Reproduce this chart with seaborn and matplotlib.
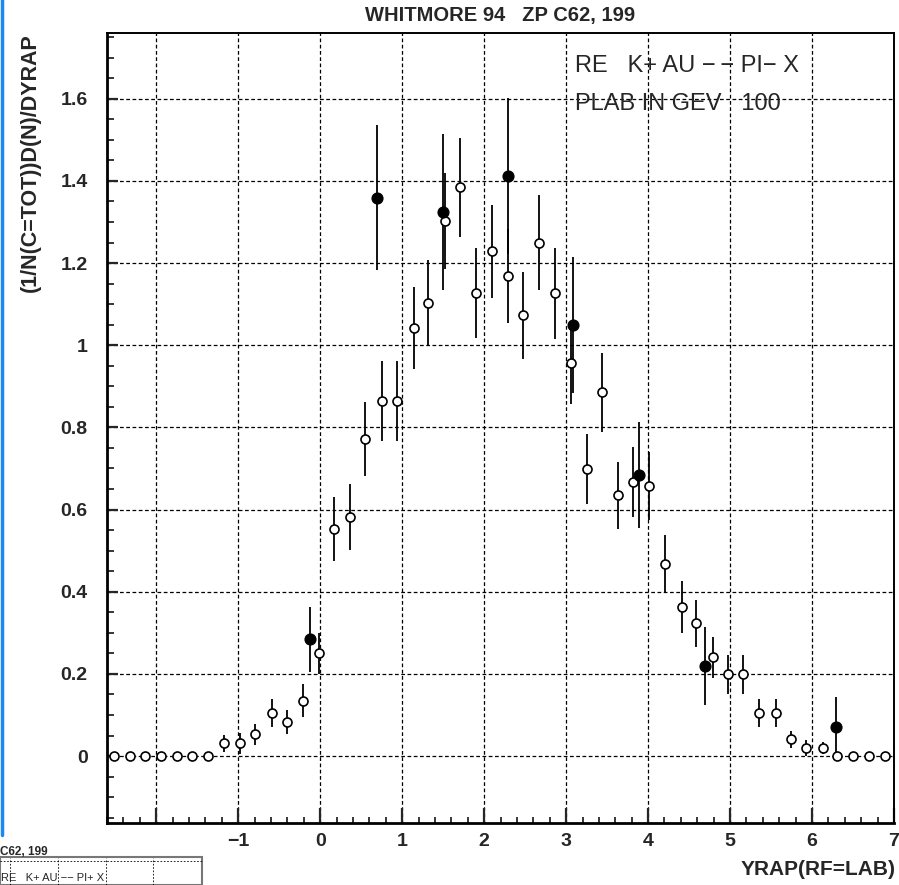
import numpy as np
import pandas as pd
import matplotlib
matplotlib.use("Agg")
import matplotlib.pyplot as plt
from matplotlib.patches import Rectangle
from matplotlib.lines import Line2D
from matplotlib.ticker import MultipleLocator, FixedLocator, FixedFormatter
import seaborn as sns

# --- Data (WHITMORE 94, ZP C62, 199) ---
# open circles
x_open = [-2.52, -2.32, -2.14, -1.94, -1.75, -1.56, -1.37, -1.17, -0.98, -0.79,
          -0.59, -0.41, -0.21, -0.02, 0.17, 0.37, 0.55, 0.75, 0.94, 1.14,
          1.32, 1.52, 1.71, 1.90, 2.10, 2.29, 2.48, 2.67, 2.86, 3.06,
          3.25, 3.44, 3.63, 3.82, 4.01, 4.21, 4.41, 4.59, 4.79, 4.98,
          5.16, 5.35, 5.56, 5.74, 5.92, 6.13, 6.31, 6.50, 6.70, 6.89]
y_open = [0, 0, 0, 0, 0, 0, 0, 0.031, 0.031, 0.053,
          0.104, 0.083, 0.135, 0.250, 0.552, 0.582, 0.771, 0.864, 0.864, 1.041,
          1.103, 1.302, 1.384, 1.127, 1.229, 1.168, 1.073, 1.250, 1.126, 0.957,
          0.698, 0.885, 0.635, 0.667, 0.657, 0.467, 0.363, 0.323, 0.240, 0.199,
          0.199, 0.105, 0.105, 0.041, 0.020, 0.020, 0, 0, 0, 0]
e_open = [0.01, 0.01, 0.01, 0.01, 0.01, 0.01, 0.01, 0.020, 0.025, 0.025,
          0.034, 0.030, 0.040, 0.050, 0.078, 0.080, 0.090, 0.097, 0.097, 0.100,
          0.105, 0.117, 0.120, 0.110, 0.113, 0.115, 0.106, 0.115, 0.110, 0.100,
          0.085, 0.097, 0.082, 0.085, 0.083, 0.070, 0.063, 0.058, 0.050, 0.048,
          0.048, 0.034, 0.034, 0.021, 0.020, 0.015, 0, 0, 0, 0]

# filled circles
x_full = [-0.12, 0.695, 1.494, 2.295, 3.087, 3.883, 4.696, 6.289]
y_full = [0.284, 1.359, 1.324, 1.412, 1.049, 0.684, 0.219, 0.071]
e_full = [0.079, 0.176, 0.190, 0.190, 0.165, 0.128, 0.094, 0.072]

x_ticks = [-2, -1, 0, 1, 2, 3, 4, 5, 6, 7]
x_ticklabels = ["", "\u22121", "0", "1", "2", "3", "4", "5", "6", "7"]
y_ticks = [0, 0.2, 0.4, 0.6, 0.8, 1.0, 1.2, 1.4, 1.6]
y_ticklabels = ["0", "0.2", "0.4", "0.6", "0.8", "1", "1.2", "1.4", "1.6"]

df_open = pd.DataFrame({"x": x_open, "y": y_open, "e": e_open})
df_full = pd.DataFrame({"x": x_full, "y": y_full, "e": e_full})

# --- Plotting ---
sns.set_style("white")
plt.rcParams["font.family"] = ["Liberation Sans", "DejaVu Sans"]

fig = plt.figure(figsize=(8.99, 8.85), dpi=100)
ax = fig.add_axes([0.119, 0.070, 0.8755, 0.8927])

# error bars
ax.errorbar(df_open["x"], df_open["y"], yerr=df_open["e"], fmt="none",
            ecolor="black", elinewidth=1.3, capsize=0, zorder=3)
ax.errorbar(df_full["x"], df_full["y"], yerr=df_full["e"], fmt="none",
            ecolor="black", elinewidth=1.3, capsize=0, zorder=3)

# markers
sns.scatterplot(data=df_open, x="x", y="y", ax=ax, marker="o", s=42,
                color="white", edgecolor="black", linewidth=1.2, zorder=4,
                legend=False)
sns.scatterplot(data=df_full, x="x", y="y", ax=ax, marker="o", s=60,
                color="black", edgecolor="black", linewidth=1.0, zorder=5,
                legend=False)

ax.set_xlim(-2.6, 7)
ax.set_ylim(-0.163, 1.76)

ax.xaxis.set_major_locator(FixedLocator(x_ticks))
ax.xaxis.set_major_formatter(FixedFormatter(x_ticklabels))
ax.xaxis.set_minor_locator(MultipleLocator(0.2))
ax.yaxis.set_major_locator(FixedLocator(y_ticks))
ax.yaxis.set_major_formatter(FixedFormatter(y_ticklabels))
ax.yaxis.set_minor_locator(MultipleLocator(0.05))

ax.tick_params(axis="x", which="major", direction="in", length=11, width=1.6,
               pad=7, labelsize=14, top=False, bottom=True)
ax.tick_params(axis="x", which="minor", direction="in", length=4.5, width=1.3,
               top=False, bottom=True)
ax.tick_params(axis="y", which="major", direction="in", length=8, width=1.6,
               pad=14, labelsize=14, left=True, right=False)
ax.tick_params(axis="y", which="minor", direction="in", length=5, width=1.3,
               left=True, right=False)
for lab in ax.get_xticklabels() + ax.get_yticklabels():
    lab.set_fontweight("bold")

ax.grid(True, which="major", color="black", linestyle=(0, (3, 2)),
        linewidth=0.9)
ax.set_axisbelow(True)

for side in ["left", "bottom"]:
    ax.spines[side].set_linewidth(2.0)
for side in ["top", "right"]:
    ax.spines[side].set_linewidth(1.4)
for sp in ax.spines.values():
    sp.set_color("black")

ax.set_xlabel("")
ax.set_ylabel("")

ax.text(0.595, 0.958, "RE   K+ AU \u2212\u2009\u2212 PI\u2212 X",
        transform=ax.transAxes, fontsize=17, va="center", ha="left")
ax.text(0.595, 0.910, "PLAB IN GEV   100", transform=ax.transAxes,
        fontsize=17, va="center", ha="left")

fig.text(0.556, 0.983, "WHITMORE 94   ZP C62, 199", fontsize=14.5,
         fontweight="bold", ha="center", va="center")
fig.text(0.034, 0.962, "(1/N(C=TOT))D(N)/DYRAP", fontsize=15.5,
         fontweight="bold", rotation=90, ha="center", va="top")
fig.text(0.996, 0.017, "YRAP(RF=LAB)", fontsize=15, fontweight="bold",
         ha="right", va="center")

# screenshot leftovers: blue edge and a small thumbnail at bottom left
fig.add_artist(Line2D([0.0017, 0.0017], [1.0, 0.057], color="#1e88f0",
                      linewidth=2.5, transform=fig.transFigure))
fig.add_artist(Rectangle((0.0, 0.0), 0.225, 0.032, transform=fig.transFigure,
                         facecolor="white", edgecolor="#777777", linewidth=1.5))
fig.text(0.0, 0.037, "C62, 199", fontsize=8.5, fontweight="bold",
         ha="left", va="center")
for xf in [0.011, 0.065, 0.118, 0.170]:
    fig.add_artist(Line2D([xf, xf], [0.0, 0.031], color="black",
                          linestyle=(0, (2, 2)), linewidth=0.6,
                          transform=fig.transFigure))
fig.add_artist(Line2D([0.0, 0.225], [0.027, 0.027], color="black",
                      linestyle=(0, (2, 2)), linewidth=0.6,
                      transform=fig.transFigure))
fig.text(0.001, 0.002, "RE   K+ AU \u2212\u2212 PI+ X", fontsize=8,
         ha="left", va="bottom")

fig.savefig("out.png", dpi=100)
